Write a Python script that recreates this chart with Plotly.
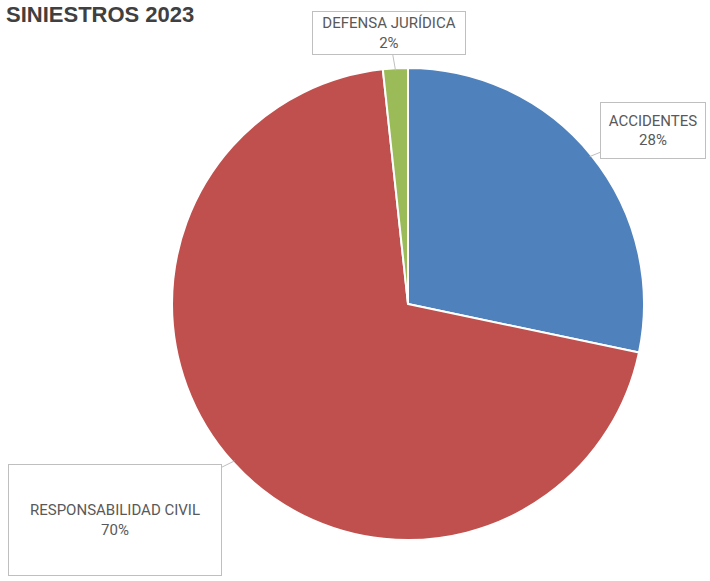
import math
import plotly.graph_objects as go

categories = ["ACCIDENTES", "RESPONSABILIDAD CIVIL", "DEFENSA JURÍDICA"]
values = [28.3, 70.0, 1.7]
colors = ["#4F81BD", "#C0504D", "#9BBB59"]
title_text = "SINIESTROS 2023"

W, H = 710, 581
cx, cy, r = 408, 304, 236  # pie centre / radius in pixels

fig = go.Figure(go.Pie(
    labels=categories,
    values=values,
    sort=False,
    direction="clockwise",
    rotation=0,
    textinfo="none",
    hoverinfo="label+percent",
    marker=dict(colors=colors, line=dict(color="white", width=2)),
    domain=dict(x=[(cx - r) / W, (cx + r) / W], y=[(H - cy - r) / H, (H - cy + r) / H]),
    showlegend=False,
))

# label box centres (pixels) and sizes
box_centres = [(653, 131), (115, 520), (389, 33)]
box_sizes = [(104, 55), (212, 110), (152, 42)]

total = sum(values)
start = 0.0
annotations = []
for cat, v, (bx, by), (bw, bh) in zip(categories, values, box_centres, box_sizes):
    frac = v / total
    mid = (start + frac / 2) * 2 * math.pi
    start += frac
    tx = cx + (r - 2) * math.sin(mid)
    ty = cy - (r - 2) * math.cos(mid)
    annotations.append(dict(
        x=tx / W, y=1 - ty / H, xref="paper", yref="paper",
        ax=bx - tx, ay=by - ty, axref="pixel", ayref="pixel",
        showarrow=True, arrowhead=0, arrowwidth=1, arrowcolor="#BFBFBF",
        text=f"{cat}<br>{round(frac * 100):.0f}%",
        font=dict(family="Roboto", size=15, color="#595959"),
        align="center",
        bgcolor="white", bordercolor="#BFBFBF", borderwidth=1,
        width=bw, height=bh, borderpad=0,
    ))

annotations.append(dict(
    x=4 / W, y=1, xref="paper", yref="paper", xanchor="left", yanchor="top",
    yshift=0, showarrow=False, text=f"<b>{title_text}</b>",
    font=dict(family="Liberation Sans", size=22, color="#404040"),
))

fig.update_layout(
    width=W, height=H,
    margin=dict(l=0, r=0, t=0, b=0),
    paper_bgcolor="white", plot_bgcolor="white",
    annotations=annotations,
)

fig.write_html(
    "out.html",
    config={"displayModeBar": False},
    post_script="document.body.style.margin='0';document.body.style.overflow='hidden';",
)
